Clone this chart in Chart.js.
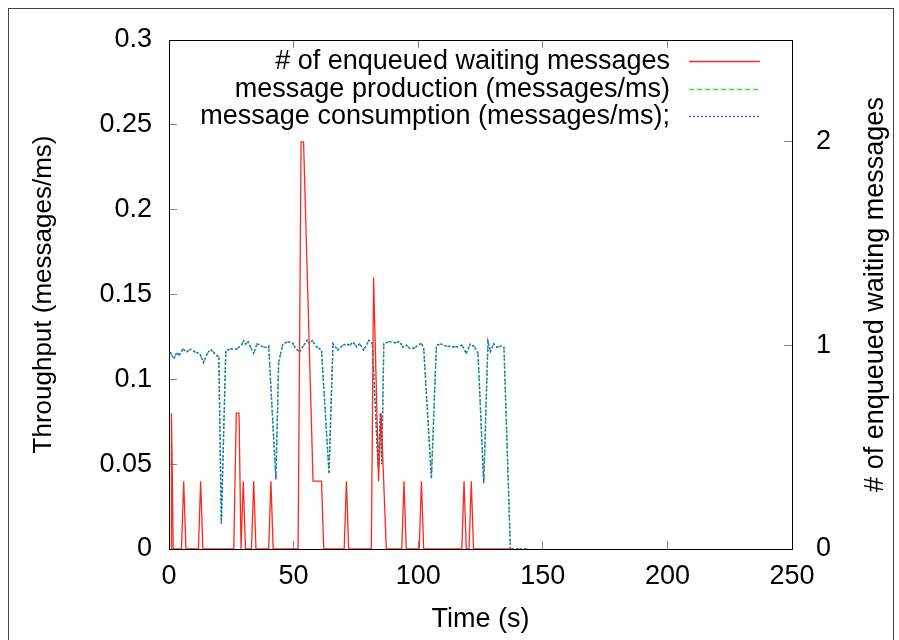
<!DOCTYPE html>
<html>
<head>
<meta charset="utf-8">
<script src="https://cdn.jsdelivr.net/npm/chart.js@4.4.1/dist/chart.umd.min.js"></script>
<style>
  html, body { margin: 0; padding: 0; background: #fff; }
  #wrap { position: relative; width: 899px; height: 640px; overflow: hidden; }
  #frame { position: absolute; left: 8px; top: 8px; width: 886px; height: 660px; border: 1px solid #444; box-sizing: border-box; }
  canvas { position: absolute; left: 0; top: 0; }
</style>
</head>
<body>
<div id="wrap">
  <canvas id="myChart" width="899" height="640"></canvas>
  <div id="frame"></div>
</div>
<script>
// throughput samples (time in s, messages/ms)
const tpTime = [0.5,1.9,3.2,4.0,5.6,7.0,8.6,11.0,12.3,13.8,15.4,16.6,18.3,20.0,21.0,22.8,25.0,27.0,29.0,30.0,
  30.8,31.7,33.0,34.0,35.3,37.0,38.8,40.0,42.9,44.0,45.7,47.8,49.5,50.8,52.4,54.5,55.4,56.5,57.5,59.2,
  61.2,64.2,65.8,67.8,69.6,71.2,72.5,73.8,75.4,76.5,78.1,79.2,80.2,81.6,83.9,84.8,85.4,86.2,88.6,90.6,
  92.6,93.9,95.2,96.6,98.3,99.9,101.3,102.2,105.3,107.3,109.3,111.3,113.9,115.9,117.6,119.3,120.9,122.6,124.0,126.3,
  128.0,129.0,130.3,131.7,133.4,134.4,137.0,144.0];
const production = [0.116,0.112,0.116,0.114,0.118,0.116,0.1177,0.1157,0.1153,0.110,0.1153,0.1177,0.1153,0.113,0.015,0.117,0.118,0.1177,0.120,0.1228,
  0.1208,0.1222,0.118,0.1153,0.121,0.1196,0.1188,0.1196,0.041,0.110,0.121,0.1222,0.1216,0.1183,0.1163,0.121,0.123,0.121,0.1228,0.1192,
  0.1173,0.0446,0.121,0.1173,0.120,0.121,0.120,0.122,0.119,0.121,0.1173,0.120,0.123,0.121,0.0485,0.08,0.05,0.1212,0.1222,0.1216,
  0.1222,0.1189,0.1202,0.1183,0.1183,0.1202,0.1212,0.1183,0.0417,0.1202,0.1208,0.1196,0.1192,0.1192,0.1202,0.1153,0.1208,0.1192,0.1153,0.0387,
  0.1222,0.1163,0.1208,0.1189,0.1196,0.1189,0,0];
const consumption = [0.116,0.112,0.116,0.114,0.118,0.116,0.1177,0.1157,0.1153,0.110,0.1153,0.1177,0.1153,0.113,0.015,0.117,0.118,0.1177,0.120,0.1228,
  0.1208,0.1222,0.118,0.1153,0.121,0.1196,0.1188,0.1196,0.041,0.110,0.121,0.1222,0.1216,0.1183,0.1163,0.121,0.123,0.121,0.1228,0.1192,
  0.1173,0.0446,0.121,0.1173,0.120,0.121,0.120,0.122,0.119,0.121,0.1173,0.120,0.123,0.121,0.0485,0.08,0.05,0.1212,0.1222,0.1216,
  0.1222,0.1189,0.1202,0.1183,0.1183,0.1202,0.1212,0.1183,0.0417,0.1202,0.1208,0.1196,0.1192,0.1192,0.1202,0.1153,0.1208,0.1192,0.1153,0.0387,
  0.1222,0.1163,0.1208,0.1189,0.1196,0.1189,0,0];

// enqueued waiting messages (right axis)
const queueTime = [0.85,1.0,1.7, 5.0,5.9,6.8, 11.8,12.7,13.6, 26.0,27.0,28.1,28.9,29.8,30.7, 33.1,34.0,34.9,
  40.0,40.9,41.8, 51.8,53.0,54.0,57.8,61.2,62.1, 70.3,71.2,72.1, 81.2,82.1,84.1,85.1,87.2,
  93.4,94.3,95.2, 100.4,101.3,102.2, 117.5,118.4,119.3, 120.4,121.3,122.2, 136.8];
const queueLen = [0,0.667,0, 0,0.333,0, 0,0.333,0, 0,0.667,0.667,0,0.333,0, 0,0.333,0,
  0,0.333,0, 0,2,2,0.333,0.333,0, 0,0.333,0, 0,1.333,0.333,0.667,0,
  0,0.333,0, 0,0.333,0, 0,0.333,0, 0,0.333,0, 0];

const xTicks = [0, 50, 100, 150, 200, 250];
const yTicks = [0, 0.05, 0.1, 0.15, 0.2, 0.25, 0.3];
const yTickLabels = ['0', '0.05', '0.1', '0.15', '0.2', '0.25', '0.3'];
const y2Ticks = [0, 1, 2];

const labels = ['# of enqueued waiting messages', 'message production (messages/ms)', 'message consumption (messages/ms);'];
const xTitle = 'Time (s)';
const yTitle = 'Throughput (messages/ms)';
const y2Title = '# of enqueued waiting messages';

const FONT = '"Liberation Sans", Arial, sans-serif';
const FS = 27;

function pts(xs, ys) {
  return xs.map((x, i) => ({x: x, y: ys[i]}));
}
function fixTicks(list) {
  return function(scale) { scale.ticks = list.map(v => ({value: v})); };
}
// fixed axis width; label overflow should not push the plot area down
function fixWidth(w) {
  return function(s) { s.width = w; s.paddingTop = 10; s.paddingBottom = 10; };
}

// legend drawn inside the plot + right axis title reading upwards
const extraText = {
  id: 'extraText',
  afterDraw(chart) {
    const ctx = chart.ctx;
    const area = chart.chartArea;
    ctx.save();
    ctx.font = FS + 'px ' + FONT;
    ctx.fillStyle = '#000';
    ctx.textAlign = 'right';
    ctx.textBaseline = 'middle';
    chart.data.datasets.forEach((ds, i) => {
      const y = Math.round(area.top + 21 + i * 27.5);
      ctx.fillText(ds.label, area.right - 122, y + 1);
      ctx.strokeStyle = ds.borderColor;
      ctx.lineWidth = 1.3;
      ctx.setLineDash(ds.borderDash || []);
      ctx.beginPath();
      ctx.moveTo(area.right - 103, y + 0.5);
      ctx.lineTo(area.right - 32, y + 0.5);
      ctx.stroke();
    });
    ctx.setLineDash([]);
    ctx.translate(876, (area.top + area.bottom) / 2);
    ctx.rotate(-Math.PI / 2);
    ctx.textAlign = 'center';
    ctx.fillText(y2Title, 0, 0);
    ctx.restore();
  }
};

const ctx = document.getElementById('myChart');
new Chart(ctx, {
  type: 'line',
  data: {
    datasets: [
      {
        label: labels[0],
        data: pts(queueTime, queueLen),
        yAxisID: 'y2',
        borderColor: 'rgb(255, 40, 30)',
        borderWidth: 1.3,
        order: 0
      },
      {
        label: labels[1],
        data: pts(tpTime, production),
        yAxisID: 'y',
        borderColor: 'rgb(40, 240, 40)',
        borderWidth: 1.4,
        borderDash: [5, 3],
        order: 2
      },
      {
        label: labels[2],
        data: pts(tpTime, consumption),
        yAxisID: 'y',
        borderColor: 'rgb(50, 80, 255)',
        borderWidth: 1.4,
        borderDash: [2, 2],
        order: 1
      }
    ]
  },
  options: {
    responsive: false,
    animation: false,
    devicePixelRatio: 1,
    layout: { padding: { top: 20, left: 0, right: 0, bottom: 0 } },
    elements: {
      point: { radius: 0 },
      line: { tension: 0, fill: false }
    },
    plugins: {
      legend: { display: false },
      tooltip: { enabled: false }
    },
    scales: {
      x: {
        type: 'linear',
        position: 'bottom',
        min: 0, max: 250,
        afterBuildTicks: fixTicks(xTicks),
        afterFit: s => { s.height = 91; },
        grid: { drawOnChartArea: false, tickLength: -8, color: '#888' },
        border: { color: '#000', width: 1 },
        ticks: { padding: 19, color: '#000', font: { family: FONT, size: FS }, maxRotation: 0 },
        title: { display: true, text: xTitle, color: '#000', font: { family: FONT, size: FS }, padding: { top: 0, bottom: 4 } }
      },
      x2: {
        type: 'linear',
        position: 'top',
        min: 0, max: 250,
        afterBuildTicks: fixTicks(xTicks),
        afterFit: s => { s.height = 20; },
        grid: { drawOnChartArea: false, tickLength: -8, color: '#888' },
        border: { color: '#000', width: 1 },
        ticks: { display: false }
      },
      y: {
        position: 'left',
        min: 0, max: 0.3,
        afterBuildTicks: fixTicks(yTicks),
        afterFit: fixWidth(169),
        grid: { drawOnChartArea: false, tickLength: -8, color: '#888' },
        border: { color: '#000', width: 1 },
        ticks: {
          padding: 25, color: '#000', font: { family: FONT, size: FS },
          callback: (v, i) => yTickLabels[i]
        },
        title: { display: true, text: yTitle, color: '#000', font: { family: FONT, size: 26 }, padding: { top: 28, bottom: 0 } }
      },
      y2: {
        position: 'right',
        min: 0, max: 2.5,
        afterBuildTicks: fixTicks(y2Ticks),
        afterFit: fixWidth(107),
        grid: { drawOnChartArea: false, tickLength: -8, color: '#888' },
        border: { color: '#000', width: 1 },
        ticks: { padding: 32, color: '#000', font: { family: FONT, size: FS } }
      }
    }
  },
  plugins: [extraText]
});
</script>
</body>
</html>
